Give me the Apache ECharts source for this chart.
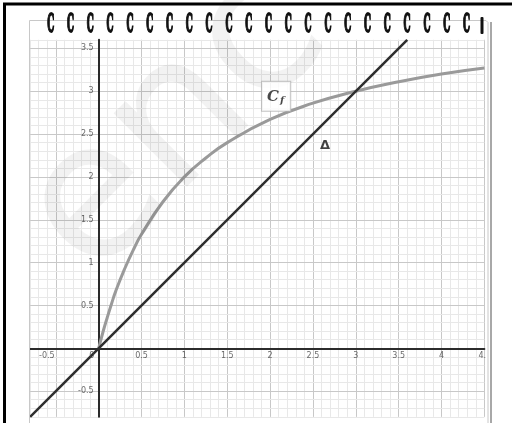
<!DOCTYPE html>
<html>
<head>
<meta charset="utf-8">
<script src="https://cdn.jsdelivr.net/npm/echarts@6/dist/echarts.min.js"></script>
<style>
  html, body { margin: 0; padding: 0; background: #fff; }
  #main { width: 512px; height: 423px; }
</style>
</head>
<body>
<div id="main"></div>
<script>
// courbe C_f, points
const cfX = [0, 0.05, 0.1, 0.15, 0.2, 0.3, 0.4, 0.5, 0.75, 1, 1.25, 1.5, 2, 2.5, 3, 3.5, 4, 4.5]
const cfY = [0, 0.19, 0.36, 0.52, 0.67, 0.92, 1.14, 1.33, 1.71, 2, 2.22, 2.4, 2.67, 2.86, 3, 3.11, 3.2, 3.27]

// droite Delta
const deltaX = [-0.8, 3.6]
const deltaY = [-0.8, 3.6]

// graduations
const xTicks = [-0.5, 0, 0.5, 1, 1.5, 2, 2.5, 3, 3.5, 4, 4.5]
const xTickText = ['-0.5', '0', '0.5', '1', '1.5', '2', '2.5', '3', '3.5', '4', '4.']
const yTicks = [-0.5, 0.5, 1, 1.5, 2, 2.5, 3, 3.5]
const yTickText = ['-0.5', '0.5', '1', '1.5', '2', '2.5', '3', '3.5']

const xRange = [-0.8, 4.5]
const yRange = [-0.8, 3.6]

// position des étiquettes
const cfLabelAt = [2.07, 2.94]
const deltaLabelAt = [2.64, 2.37]

let chart = echarts.init(document.querySelector('#main'), null, { renderer: 'canvas' })

// lignes du quadrillage (pas de 0.1, traits plus foncés tous les 0.5)
function gridValues (range) {
  let out = []
  for (let i = Math.ceil(range[0] * 10 - 1e-6); i <= Math.floor(range[1] * 10 + 1e-6); i++) {
    if (i !== 0) out.push(i)
  }
  return out
}
let gridLines = []
gridValues(xRange).forEach(i => gridLines.push({
  xAxis: i / 10,
  lineStyle: { color: i % 5 === 0 ? '#c8c8c8' : '#e8e8e8', width: 1, type: 'solid' }
}))
gridValues(yRange).forEach(i => gridLines.push({
  yAxis: i / 10,
  lineStyle: { color: i % 5 === 0 ? '#c8c8c8' : '#e8e8e8', width: 1, type: 'solid' }
}))

// spirale du cahier
let rings = []
for (let i = 0; i < 22; i++) {
  rings.push({
    type: 'text',
    x: 50.7 + 19.8 * i,
    y: 25.5,
    scaleX: 0.34,
    z: 20,
    style: {
      text: 'C',
      font: 'bold 26px "DejaVu Serif"',
      fill: '#111',
      stroke: '#111',
      lineWidth: 2,
      textAlign: 'center', align: 'center',
      textVerticalAlign: 'middle', verticalAlign: 'middle'
    }
  })
}

let option = {
  animation: false,
  backgroundColor: '#fff',
  grid: {
    left: 30.14,
    top: 39.78,
    width: 454.21,
    height: 377.08,
    outerBoundsMode: 'none',
    containLabel: false
  },
  xAxis: {
    type: 'value',
    min: xRange[0],
    max: xRange[1],
    z: 3,
    axisLine: { show: true, onZero: true, lineStyle: { color: '#2b2b2b', width: 2, type: 'solid' } },
    axisTick: { show: false },
    axisLabel: { show: false },
    splitLine: { show: false }
  },
  yAxis: {
    type: 'value',
    min: yRange[0],
    max: yRange[1],
    z: 3,
    axisLine: { show: true, onZero: true, lineStyle: { color: '#2b2b2b', width: 2, type: 'solid' } },
    axisTick: { show: false },
    axisLabel: { show: false },
    splitLine: { show: false }
  },
  graphic: [
    // cadre noir
    {
      type: 'polyline',
      z: 30,
      shape: { points: [[4.5, 423], [4.5, 4], [512, 4]] },
      style: { stroke: '#000', lineWidth: 3, fill: null }
    },
    // bord de la feuille
    {
      type: 'polyline',
      z: 5,
      shape: { points: [[29.5, 423], [29.5, 20.5], [486, 20.5], [488, 22.5], [488, 423]] },
      style: { stroke: '#c8c8c8', lineWidth: 1, fill: null }
    },
    {
      type: 'line',
      z: 5,
      shape: { x1: 491, y1: 22, x2: 491, y2: 423 },
      style: { stroke: '#a8a8a8', lineWidth: 2 }
    },
    // filigrane
    {
      type: 'text',
      x: 178,
      y: 126,
      rotation: Math.PI / 4,
      z: 6,
      style: {
        text: 'enc',
        font: '190px "DejaVu Sans"',
        fill: 'rgba(0,0,0,0.05)',
        textAlign: 'center', align: 'center',
        textVerticalAlign: 'middle', verticalAlign: 'middle'
      }
    },
    ...rings,
    {
      type: 'rect',
      z: 20,
      shape: { x: 480.5, y: 17, width: 3, height: 17, r: 1 },
      style: { fill: '#111' }
    }
  ],
  series: [
    {
      type: 'line',
      name: 'quadrillage',
      z: 1,
      silent: true,
      symbol: 'none',
      data: [],
      markLine: {
        z: 1,
        silent: true,
        symbol: ['none', 'none'],
        label: { show: false },
        emphasis: { disabled: true },
        lineStyle: { type: 'solid' },
        animation: false,
        data: gridLines
      }
    },
    {
      type: 'line',
      name: 'C_f',
      z: 4,
      symbol: 'none',
      smooth: 0.5,
      lineStyle: { color: '#9a9a9a', width: 3, type: 'solid' },
      data: cfX.map((x, i) => [x, cfY[i]])
    },
    {
      type: 'line',
      name: 'Delta',
      z: 4,
      symbol: 'none',
      lineStyle: { color: '#2e2e2e', width: 2.5, type: 'solid' },
      data: deltaX.map((x, i) => [x, deltaY[i]])
    },
    // graduations de l'axe des abscisses
    {
      type: 'scatter',
      z: 5,
      silent: true,
      symbolSize: 0.1,
      itemStyle: { color: 'transparent' },
      label: {
        show: true,
        position: 'bottom',
        distance: 4,
        color: '#444',
        fontFamily: 'DejaVu Sans',
        fontSize: 8,
        formatter: p => xTickText[p.dataIndex]
      },
      data: xTicks.map(v => ({
        value: [v, 0],
        label: { offset: v < 0 ? [-9, 0] : (v === 0 ? [-7, 0] : (v === 4.5 ? [-2, 0] : [0, 0])) }
      }))
    },
    // graduations de l'axe des ordonnées
    {
      type: 'scatter',
      z: 5,
      silent: true,
      symbolSize: 0.1,
      itemStyle: { color: 'transparent' },
      label: {
        show: true,
        position: 'left',
        distance: 5,
        color: '#444',
        fontFamily: 'DejaVu Sans',
        fontSize: 8,
        formatter: p => yTickText[p.dataIndex]
      },
      data: yTicks.map(v => [0, v])
    },
    // étiquettes des courbes
    {
      type: 'scatter',
      z: 6,
      silent: true,
      symbolSize: 0.1,
      itemStyle: { color: 'transparent' },
      data: [
        {
          value: cfLabelAt,
          label: {
            show: true,
            position: 'inside',
            backgroundColor: '#fff',
            borderColor: '#b4b4b4',
            borderWidth: 1,
            padding: [7, 6, 5, 5],
            formatter: '{c|C}{s|f}',
            rich: {
              c: { fontFamily: 'DejaVu Serif', fontStyle: 'italic', fontWeight: 'bold', fontSize: 15, color: '#1a1a1a' },
              s: { fontFamily: 'DejaVu Serif', fontStyle: 'italic', fontWeight: 'bold', fontSize: 10, color: '#1a1a1a', padding: [7, 0, 0, 1] }
            }
          }
        },
        {
          value: deltaLabelAt,
          label: {
            show: true,
            position: 'inside',
            formatter: 'Δ',
            fontFamily: 'DejaVu Sans',
            fontWeight: 'bold',
            fontSize: 13,
            color: '#111'
          }
        }
      ]
    }
  ]
}

chart.setOption(option)
</script>
</body>
</html>
